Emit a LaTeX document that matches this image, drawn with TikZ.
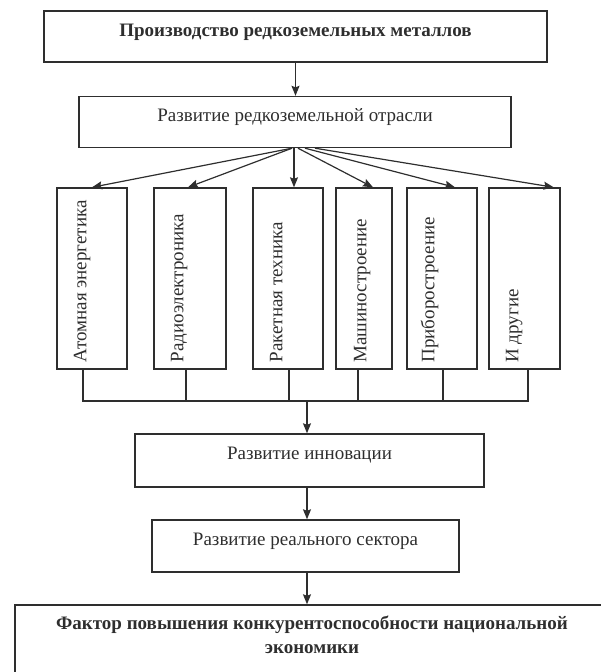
\documentclass[tikz,border=0pt]{standalone}
\usepackage{fontspec}
\setmainfont{Liberation Serif}
\usetikzlibrary{arrows.meta}
\definecolor{ink}{HTML}{2E2E2E}

\begin{document}
\begin{tikzpicture}[x=1pt,y=-1pt,
    blk/.style={draw=ink, line width=1.4pt, text=ink, inner sep=0pt,
      text height=25pt, text depth=26pt, font=\fontsize{19}{22}\selectfont},
    col/.style={draw=ink, line width=1.4pt, minimum height=181pt, inner sep=0pt},
    coltext/.style={rotate=90, anchor=base west, text=ink, inner sep=0pt,
      font=\fontsize{19}{22}\selectfont},
    link/.style={draw=ink, line width=1.2pt},
    arr/.style={link, -{Stealth[length=10pt,width=8pt,inset=1.5pt]}}]
  \useasboundingbox (0,0) rectangle (600,672);

  % top chain
  \node[blk, minimum width=503pt, font=\bfseries\fontsize{19}{22}\selectfont]
    (prod) at (295.5,36.5) {Производство редкоземельных металлов};
  \node[blk, minimum width=432pt] (dev) at (295,122) {Развитие редкоземельной отрасли};
  \draw[arr] (prod.south) -- (prod.south |- dev.north);

  % branches
  \node[col, minimum width=70pt] (c1) at (92,278.5) {};
  \node[col, minimum width=72pt] (c2) at (190,278.5) {};
  \node[col, minimum width=70pt] (c3) at (288,278.5) {};
  \node[col, minimum width=56pt] (c4) at (364,278.5) {};
  \node[col, minimum width=70pt] (c5) at (442,278.5) {};
  \node[col, minimum width=71pt] (c6) at (524.5,278.5) {};
  \node[coltext] (t1) at ([xshift=30pt,yshift=7pt]c1.south west) {Атомная энергетика};
  \node[coltext] (t2) at ([xshift=30pt,yshift=7pt]c2.south west) {Радиоэлектроника};
  \node[coltext] (t3) at ([xshift=30pt,yshift=7pt]c3.south west) {Ракетная техника};
  \node[coltext] (t4) at ([xshift=31pt,yshift=7pt]c4.south west) {Машиностроение};
  \node[coltext] (t5) at ([xshift=28pt,yshift=7pt]c5.south west) {Приборостроение};
  \node[coltext] (t6) at ([xshift=30pt,yshift=7pt]c6.south west) {И другие};

  \draw[arr] ([xshift=-3pt]dev.south) -- (c1.north);
  \draw[arr] ([xshift=-3pt]dev.south) -- ([xshift=-2pt]c2.north);
  \draw[arr] ([xshift=-1pt]dev.south) -- ([xshift=6pt]c3.north);
  \draw[arr] ([xshift=3pt]dev.south) -- ([xshift=9pt]c4.north);
  \draw[arr] ([xshift=10pt]dev.south) -- ([xshift=13pt]c5.north);
  \draw[arr] ([xshift=20pt]dev.south) -- ([xshift=-7pt]c6.north east);

  % collecting line
  \coordinate (bus) at (307,401);
  \draw[link] ([xshift=-9pt]c1.south) |- (bus) -| ([xshift=3.5pt]c6.south);
  \draw[link] ([xshift=-4pt]c2.south) -- ([xshift=-4pt]c2.south |- bus);
  \draw[link] ([xshift=1pt]c3.south) -- ([xshift=1pt]c3.south |- bus);
  \draw[link] ([xshift=-6pt]c4.south) -- ([xshift=-6pt]c4.south |- bus);
  \draw[link] ([xshift=1pt]c5.south) -- ([xshift=1pt]c5.south |- bus);

  % bottom chain
  \node[blk, minimum width=349pt, text depth=28pt] (inn) at (309.5,460.5) {Развитие инновации};
  \node[blk, minimum width=307pt, text depth=27pt] (sec) at (305.5,546) {Развитие реального сектора};
  \node[draw=ink, line width=1.4pt, minimum width=594pt, minimum height=90pt]
    (fin) at (312,650) {};
  \node[text=ink, align=center, inner sep=0pt,
    font=\bfseries\fontsize{19}{24}\selectfont] (fintext) at (312,635)
    {Фактор повышения конкурентоспособности национальной\\экономики};
  \draw[arr] (bus) -- (bus |- inn.north);
  \draw[arr] (bus |- inn.south) -- (bus |- sec.north);
  \draw[arr] (bus |- sec.south) -- (bus |- fin.north);
\end{tikzpicture}
\end{document}
